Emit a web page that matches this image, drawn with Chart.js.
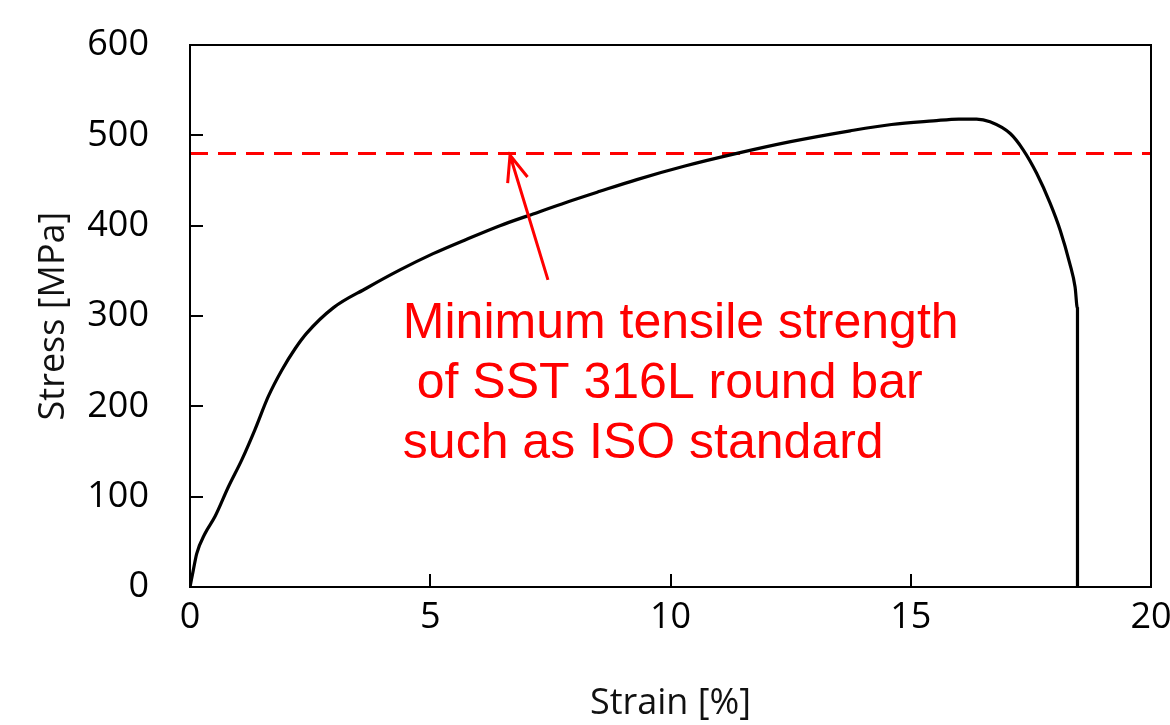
<!DOCTYPE html>
<html>
<head>
<meta charset="utf-8">
<script src="https://cdn.jsdelivr.net/npm/chart.js@4.4.1/dist/chart.umd.min.js"></script>
<style>
html,body{margin:0;padding:0;background:#fff;overflow:hidden;}
#wrap{position:relative;width:1170px;height:725px;}
</style>
</head>
<body>
<div id="wrap"><canvas id="c" width="1170" height="725"></canvas></div>
<script>
// ---- data ----
const strain = [0, 0.07, 0.14, 0.31, 0.52, 0.80, 1.08, 1.35, 1.63, 1.91, 2.19, 2.43, 2.98, 3.68, 4.37, 5.06, 5.76, 6.45, 7.14, 7.84, 8.53, 9.30, 10.30, 11.38, 12.50, 13.74, 14.60, 15.47, 16.00, 16.37, 16.65, 17.07, 17.34, 17.62, 17.90, 18.11, 18.31, 18.42, 18.47, 18.47];
const stress = [0, 19, 37, 59, 78, 111, 141, 174, 211, 240, 264, 281, 309, 331, 351, 369, 385, 400, 413, 426, 438, 451, 466, 480, 493, 505, 512, 516, 518, 518, 515, 502, 484, 458, 425, 395, 358, 332, 308, 0];
const limitStrain = [0, 20];
const limitStress = [480, 480];
const xTickValues = [0, 5, 10, 15, 20];
const yTickValues = [0, 100, 200, 300, 400, 500, 600];
const xTitle = 'Strain [%]';
const yTitle = 'Stress [MPa]';
const noteLines = ['Minimum tensile strength', ' of SST 316L round bar', 'such as ISO standard'];
const noteAnchor = {x: 4.43, y: 276};
const arrowTail = {x: 7.45, y: 340};
const arrowTip = {x: 6.66, y: 478};

const curvePts = strain.map((s, i) => ({x: s, y: stress[i]}));
const limitPts = limitStrain.map((s, i) => ({x: s, y: limitStress[i]}));

Chart.defaults.font.family = "'Open Sans', 'Noto Sans', sans-serif";
Chart.defaults.color = '#000';

const overlay = {
  id: 'overlay',
  afterDatasetsDraw(chart) {
    const {ctx, chartArea: a, scales: {x, y}} = chart;
    ctx.save();
    ctx.strokeStyle = '#000';
    ctx.lineWidth = 2;
    ctx.beginPath();
    xTickValues.forEach(v => {
      if (v > x.min && v < x.max) {
        const px = Math.round(x.getPixelForValue(v));
        ctx.moveTo(px, a.bottom); ctx.lineTo(px, a.bottom - 13);
      }
    });
    yTickValues.forEach(v => {
      if (v > y.min && v < y.max) {
        const py = Math.round(y.getPixelForValue(v));
        ctx.moveTo(a.left, py); ctx.lineTo(a.left + 13, py);
      }
    });
    ctx.stroke();
    ctx.strokeRect(a.left, a.top, a.right - a.left, a.bottom - a.top);

    // arrow
    const tx = x.getPixelForValue(arrowTail.x), ty = y.getPixelForValue(arrowTail.y);
    const hx = x.getPixelForValue(arrowTip.x), hy = y.getPixelForValue(arrowTip.y);
    ctx.strokeStyle = '#FF0000';
    ctx.lineWidth = 3;
    ctx.lineCap = 'butt';
    ctx.beginPath();
    ctx.moveTo(tx, ty); ctx.lineTo(hx, hy);
    const ang = Math.atan2(hy - ty, hx - tx);
    const hl = 28, ha = 0.38;
    ctx.moveTo(hx - hl * Math.cos(ang - ha), hy - hl * Math.sin(ang - ha));
    ctx.lineTo(hx, hy);
    ctx.lineTo(hx - hl * Math.cos(ang + ha), hy - hl * Math.sin(ang + ha));
    ctx.stroke();

    // note text
    ctx.fillStyle = '#FF0000';
    ctx.font = '50px "Liberation Sans", Arial, sans-serif';
    ctx.textAlign = 'left';
    ctx.textBaseline = 'alphabetic';
    const nx = x.getPixelForValue(noteAnchor.x), ny = y.getPixelForValue(noteAnchor.y);
    noteLines.forEach((s, i) => ctx.fillText(s, nx, ny + i * 60));
    ctx.restore();
  }
};

new Chart(document.getElementById('c'), {
  type: 'scatter',
  data: {
    datasets: [
      {
        label: 'Stress-strain',
        data: curvePts,
        showLine: true,
        borderColor: '#000',
        borderWidth: 3.2,
        pointRadius: 0,
        cubicInterpolationMode: 'monotone',
        order: 1
      },
      {
        label: 'Minimum tensile strength',
        data: limitPts,
        showLine: true,
        borderColor: '#FF0000',
        borderWidth: 3,
        borderDash: [18, 10],
        pointRadius: 0,
        order: 2
      }
    ]
  },
  options: {
    responsive: false,
    animation: false,
    devicePixelRatio: 1,
    layout: {padding: {top: 45, right: 19, bottom: 0, left: 0}},
    plugins: {legend: {display: false}, tooltip: {enabled: false}, title: {display: false}},
    scales: {
      x: {
        type: 'linear', min: 0, max: 20,
        afterBuildTicks: s => { s.ticks = xTickValues.map(v => ({value: v})); },
        ticks: {font: {size: 36}, color: '#000', padding: 9, maxRotation: 0, autoSkip: false},
        grid: {display: false, drawTicks: false},
        border: {display: false},
        title: {display: true, text: xTitle, font: {size: 36}, color: '#111', padding: {top: 0, bottom: 0}},
        afterFit: s => { s.height = 138; s.paddingLeft = 0; s.paddingRight = 0; }
      },
      y: {
        type: 'linear', min: 0, max: 600,
        afterBuildTicks: s => { s.ticks = yTickValues.map(v => ({value: v})); },
        ticks: {font: {size: 36}, color: '#000', padding: 41, autoSkip: false},
        grid: {display: false, drawTicks: false},
        border: {display: false},
        title: {display: true, text: yTitle, font: {size: 36}, color: '#111', padding: {top: 32, bottom: 0}},
        afterFit: s => { s.width = 190; s.paddingTop = 0; s.paddingBottom = 0; }
      }
    }
  },
  plugins: [overlay]
});
</script>
</body>
</html>
